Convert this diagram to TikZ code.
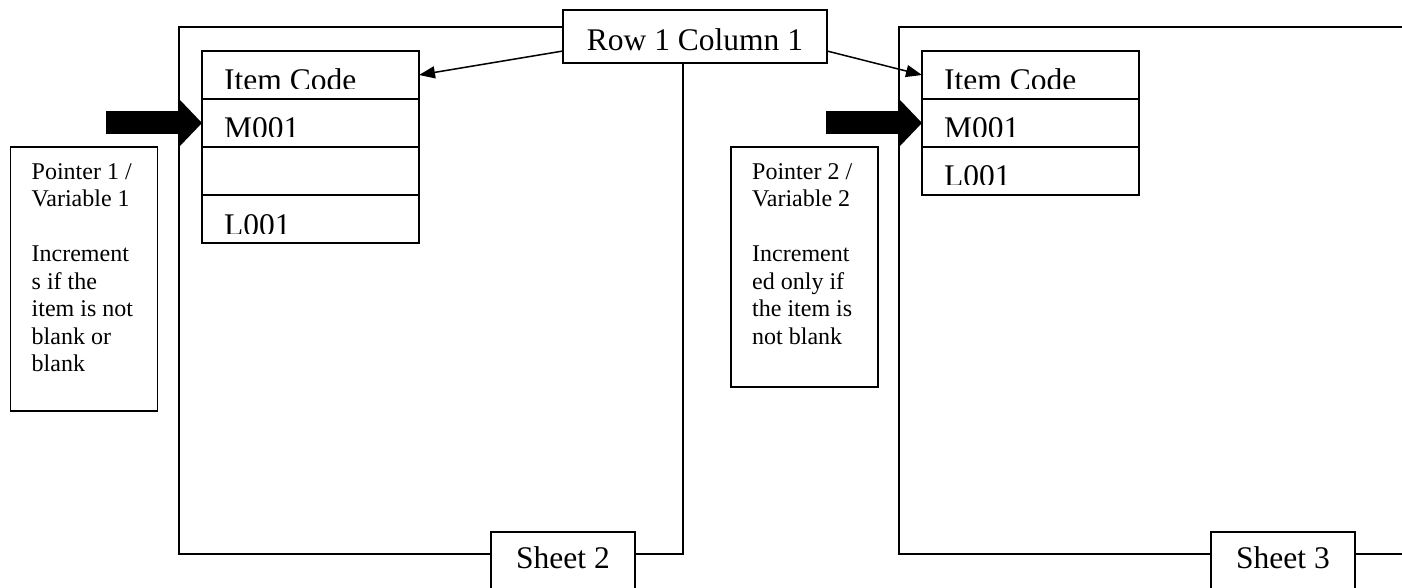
\documentclass[tikz,border=0pt]{standalone}
\usepackage{fontspec}
\setmainfont{Liberation Serif}
\usetikzlibrary{arrows.meta}

\tikzset{
  bigtext/.style={font=\fontsize{31.5pt}{36pt}\selectfont},
  smalltext/.style={font=\fontsize{24pt}{27.5pt}\selectfont},
  plainbox/.style={draw, line width=1.8pt, inner sep=0pt, outer sep=0pt},
  cell/.style={plainbox, minimum width=217pt, minimum height=48pt, anchor=north west},
  celltext/.style={bigtext, anchor=base west, inner sep=0pt},
  ptrbox/.style={plainbox, minimum width=147pt, anchor=north west},
  ptrtext/.style={smalltext, align=left, anchor=north west, inner sep=0pt},
  sheetbox/.style={plainbox, bigtext, minimum width=144pt, inner ysep=14.5pt,
    text height=21.5pt, text depth=30pt, anchor=north},
  sheetframe/.style={line width=1.8pt},
  thinarrow/.style={line width=1.5pt, -{Triangle[length=16pt,width=12pt]}},
  fatarrow/.style={line width=23pt, -{Triangle[length=23pt,width=48pt,line width=0pt]}},
}

\begin{document}
\begin{tikzpicture}[x=1pt, y=-1pt]
    \useasboundingbox (0,0) rectangle (1402,588);

    % top label and sheet tabs
    \node[plainbox, bigtext, minimum width=264pt, minimum height=53pt,
      text height=29pt, text depth=0pt] (rowcol) at (695,36.5) {Row 1 Column 1};
    \node[sheetbox] (sheet2) at (563,532) {Sheet 2};
    \node[sheetbox] (sheet3) at (1283,532) {Sheet 3};

    % sheet 2 outline
    \coordinate (f1top) at (179,27);
    \coordinate (f1bot) at (179,554);
    \coordinate (f1right) at (683,554);
    \draw[sheetframe] (rowcol.west |- f1top) -- (f1top) -- (f1bot) -- (sheet2.west |- f1bot);
    \draw[sheetframe] (sheet2.east |- f1bot) -- (f1right) -- (f1right |- rowcol.south);

    % sheet 3 outline
    \coordinate (f2top) at (899,27);
    \coordinate (f2bot) at (899,554);
    \draw[sheetframe] (1402,27) -- (f2top) -- (f2bot) -- (sheet3.west |- f2bot);
    \draw[sheetframe] (sheet3.east |- f2bot) -- (1402,554);

    % column of sheet 2
    \foreach \n/\y/\t in {code1/51/Item Code, m1/99/M001, e1/147/, l1/195/L001} {
        \node[cell] (\n) at (202,\y) {};
        \begin{scope}
            \clip (\n.north west) rectangle ([yshift=10pt]\n.south east);
            \node[celltext] (\n-txt) at ([xshift=22pt,yshift=8pt]\n.south west) {\t};
        \end{scope}
    }

    % column of sheet 3
    \foreach \n/\y/\t in {code2/51/Item Code, m2/99/M001, l2/147/L001} {
        \node[cell] (\n) at (922,\y) {};
        \begin{scope}
            \clip (\n.north west) rectangle ([yshift=10pt]\n.south east);
            \node[celltext] (\n-txt) at ([xshift=22pt,yshift=8pt]\n.south west) {\t};
        \end{scope}
    }

    % pointers
    \node[ptrbox, minimum height=264pt] (ptr1) at (10.5,147) {};
    \node[ptrtext] (ptr1-txt) at ([xshift=21pt,yshift=-16.3pt]ptr1.north west)
      {Pointer 1 /\\Variable 1\\[27.5pt]Increment\\s if the\\item is not\\blank or\\blank};
    \node[ptrbox, minimum height=240pt] (ptr2) at (731,147) {};
    \node[ptrtext] (ptr2-txt) at ([xshift=21pt,yshift=-16.3pt]ptr2.north west)
      {Pointer 2 /\\Variable 2\\[27.5pt]Increment\\ed only if\\the item is\\not blank};

    \coordinate (p1) at (106,123);
    \coordinate (p2) at (826,123);
    \draw[fatarrow] (p1) -- (m1.west);
    \draw[fatarrow] (p2) -- (m2.west);

    % header arrows
    \draw[thinarrow] ([yshift=-14.5pt]rowcol.west) -- (code1.east);
    \draw[thinarrow] ([yshift=-14.5pt]rowcol.east) -- (code2.west);
\end{tikzpicture}
\end{document}
